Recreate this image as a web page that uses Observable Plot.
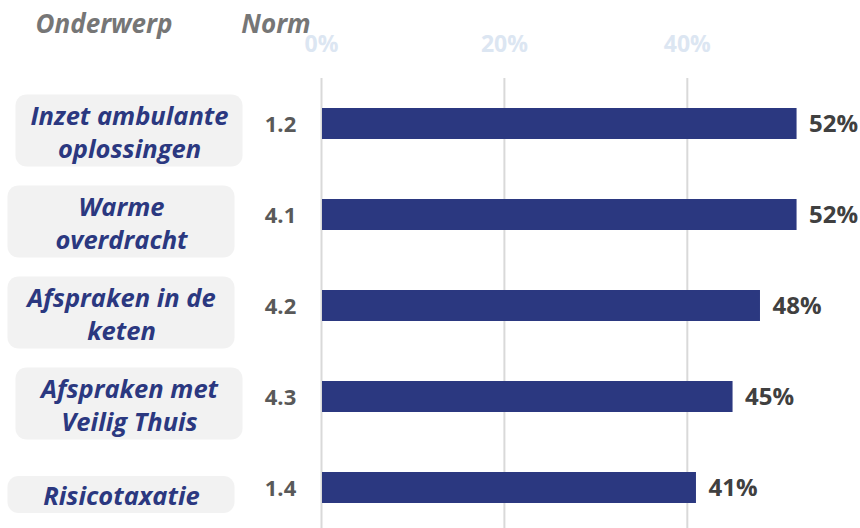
<!DOCTYPE html>
<html>
<head>
<meta charset="utf-8">
<script src="https://cdn.jsdelivr.net/npm/d3@7"></script>
<script src="https://cdn.jsdelivr.net/npm/@observablehq/plot@0.6"></script>
<style>
  html, body { margin: 0; padding: 0; background: #fff; }
  #chart { width: 860px; height: 528px; }
</style>
</head>
<body>
<div id="chart"></div>
<script>
const categories = [
  "Inzet ambulante\noplossingen",
  "Warme\noverdracht",
  "Afspraken in de\nketen",
  "Afspraken met\nVeilig Thuis",
  "Risicotaxatie"
];
const norms = ["1.2", "4.1", "4.2", "4.3", "1.4"];
const values = [52, 52, 48, 45, 41];
const ticks = [0, 20, 40];
const headers = ["Onderwerp", "Norm"];

const data = categories.map((c, i) => ({ cat: c, norm: norms[i], value: values[i], i }));

const FONT = "'Open Sans', Lato, sans-serif";
const NAVY = "#2B3880";
const LABEL_DY = 7;
const isRight = d => d.i === 0 || d.i === 3;

const chart = Plot.plot({
  width: 860,
  height: 528,
  marginLeft: 321,
  marginRight: 36,
  marginTop: 78,
  marginBottom: -4,
  style: { fontFamily: FONT, background: "#fff", overflow: "hidden" },
  x: { domain: [0, 55], axis: null, label: null },
  y: { domain: categories, paddingInner: 0.66, paddingOuter: 0.32, axis: null },
  marks: [
    Plot.ruleX(ticks, { x: d => d, stroke: "#D9D9D9", strokeWidth: 2 }),
    Plot.axisX(ticks, {
      anchor: "top", tickSize: 0, tickPadding: 27, label: null,
      tickFormat: d => d + "%",
      fill: "#DCE6F2", fontSize: 23, fontWeight: "bold", fontFamily: FONT
    }),
    Plot.barX(data, { x: "value", y: "cat", fill: NAVY, insetLeft: 1 }),
    Plot.text(data, {
      x: "value", y: "cat", text: d => d.value + "%",
      textAnchor: "start", dx: 12, fill: "#404040",
      fontSize: 24, fontWeight: "bold", fontFamily: FONT
    }),
    Plot.text(data, {
      x: 0, y: "cat", text: "norm", textAnchor: "middle", dx: -41, dy: 1,
      fill: "#595959", fontSize: 22, fontWeight: "bold", fontFamily: FONT
    }),
    Plot.text(data.filter(isRight), {
      x: 0, y: "cat", text: "cat", textAnchor: "middle", dx: -192, dy: LABEL_DY,
      lineHeight: 1.28, fill: NAVY, fontSize: 25.5, fontWeight: "bold",
      fontStyle: "italic", fontFamily: FONT
    }),
    Plot.text(data.filter(d => !isRight(d)), {
      x: 0, y: "cat", text: "cat", textAnchor: "middle", dx: -200, dy: LABEL_DY,
      lineHeight: 1.28, fill: NAVY, fontSize: 25.5, fontWeight: "bold",
      fontStyle: "italic", fontFamily: FONT
    })
  ]
});

document.getElementById("chart").appendChild(chart);

const svg = d3.select(chart);

// Rounded grey boxes behind the category labels, positioned with the y scale
const yS = chart.scale("y");
const xS = chart.scale("x");
const boxes = svg.insert("g", "g").attr("fill", "#F2F2F2");
data.forEach(d => {
  const cy = yS.apply(d.cat) + yS.bandwidth / 2 + LABEL_DY;
  const cx = xS.apply(0) + (isRight(d) ? -192 : -200);
  const lines = d.cat.split("\n").length;
  const h = lines > 1 ? 72 : 37;
  const w = 227;
  boxes.append("rect")
    .attr("x", cx - w / 2).attr("y", cy - h / 2)
    .attr("width", w).attr("height", h)
    .attr("rx", 11);
});

// Column headers
const hx = [104, 276];
headers.forEach((h, i) => {
  svg.append("text")
    .attr("x", hx[i]).attr("y", 33)
    .attr("text-anchor", "middle")
    .attr("fill", "#767676")
    .style("font", `italic bold 26px ${FONT}`)
    .text(h);
});
</script>
</body>
</html>
